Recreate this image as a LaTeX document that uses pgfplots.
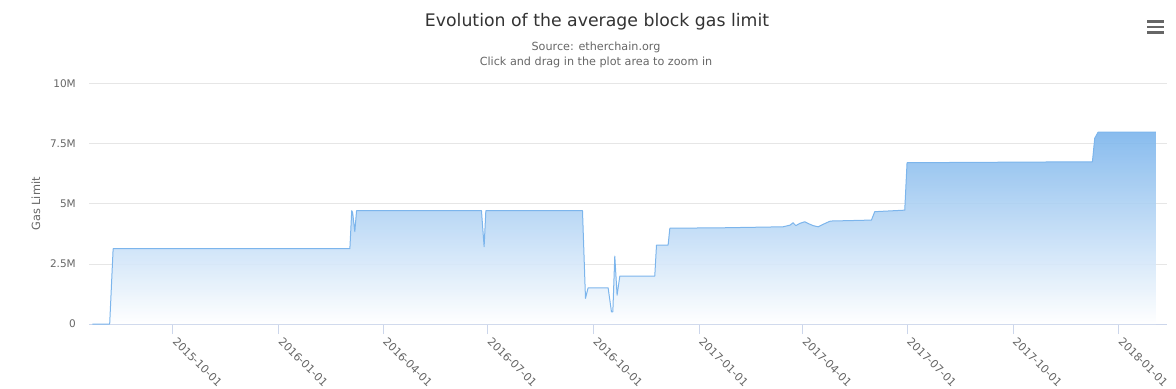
\documentclass[border=0pt]{standalone}
\usepackage{fontspec}
\setmainfont{DejaVu Sans}
\usepackage{pgfplots}
\usepackage{pgfplotstable}
\pgfplotsset{compat=1.18}
\definecolor{hcblue}{HTML}{7CB5EC}
\definecolor{gridc}{HTML}{E6E6E6}
\definecolor{axisc}{HTML}{CCD6EB}
\definecolor{txtlight}{HTML}{666666}
\definecolor{txtdark}{HTML}{333333}

% x = days since 2015-10-01, y = gas limit in millions
\pgfplotstableread{
day gas
-70 0
-55 0
-52 3.14
154.0 3.14
155.6 4.72
156.4 4.64
158.3 3.85
159.8 4.72
268.5 4.72
270.8 3.22
272.3 4.72
356.4 4.72
359.0 1.07
361.3 1.51
378.7 1.51
381.6 0.51
382.8 0.51
384.5 2.83
386.5 1.20
388.9 2.00
419.3 2.00
420.8 3.29
430.9 3.29
432.4 3.99
480.0 4.01
530.9 4.05
537.0 4.12
539.6 4.22
542.0 4.10
545.4 4.19
549.8 4.26
552.7 4.19
557.0 4.10
561.4 4.05
565.7 4.15
568.7 4.22
572.2 4.29
607.8 4.33
610.7 4.68
635.3 4.74
636.8 4.74
638.8 6.72
800.1 6.76
802.1 7.74
805.0 7.99
855.2 7.99
}\gasdata

\begin{document}
\begin{tikzpicture}
\useasboundingbox (-89bp,-65bp) rectangle (1087bp,324bp);
\begin{axis}[
  at={(0,0)}, anchor=south west,
  scale only axis,
  width=1078bp, height=240bp,
  xmin=-73, xmax=865,
  ymin=0, ymax=10,
  axis x line*=bottom,
  axis y line*=left,
  y axis line style={draw=none},
  x axis line style={draw=axisc, line width=1bp},
  xtick={0,92,183,274,366,458,548,639,731,823},
  xticklabels={2015-10-01,2016-01-01,2016-04-01,2016-07-01,2016-10-01,2017-01-01,2017-04-01,2017-07-01,2017-10-01,2018-01-01},
  ytick={0,2.5,5,7.5,10},
  yticklabels={0,2.5M,5M,7.5M,10M},
  tick align=outside,
  major tick length=10bp,
  xtick style={draw=axisc, line width=1bp},
  ytick style={draw=none},
  ymajorgrids,
  grid style={draw=gridc, line width=1bp},
  xticklabel style={rotate=-45, anchor=north west, inner sep=0pt, xshift=5bp, yshift=2bp,
    font=\fontsize{11bp}{12bp}\selectfont, text=txtlight},
  yticklabel style={anchor=east, inner sep=0pt, xshift=-3bp,
    font=\fontsize{10.5bp}{12bp}\selectfont, text=txtlight},
  clip=true,
]
\addplot[draw=none, top color=hcblue, bottom color=white, fill opacity=0.9] table[x=day, y=gas] {\gasdata} \closedcycle;
\addplot[draw=hcblue, line width=1bp, line join=round] table[x=day, y=gas] {\gasdata};
\end{axis}
\node[font=\fontsize{17.3bp}{20bp}\selectfont, text=txtdark] at (508bp,302bp) {Evolution of the average block gas limit};
\node[font=\fontsize{11.2bp}{13bp}\selectfont, text=txtlight] at (507bp,277bp) {Source: etherchain.org};
\node[font=\fontsize{11.2bp}{13bp}\selectfont, text=txtlight] at (507bp,262bp) {Click and drag in the plot area to zoom in};
\node[font=\fontsize{11.3bp}{13bp}\selectfont, text=txtlight, rotate=90] at (-53bp,120bp) {Gas Limit};
\draw[txtlight, line width=2.6bp] (1058bp,302.3bp) -- (1075bp,302.3bp);
\draw[txtlight, line width=2.6bp] (1058bp,297bp) -- (1075bp,297bp);
\draw[txtlight, line width=2.6bp] (1058bp,291.7bp) -- (1075bp,291.7bp);
\end{tikzpicture}
\end{document}
